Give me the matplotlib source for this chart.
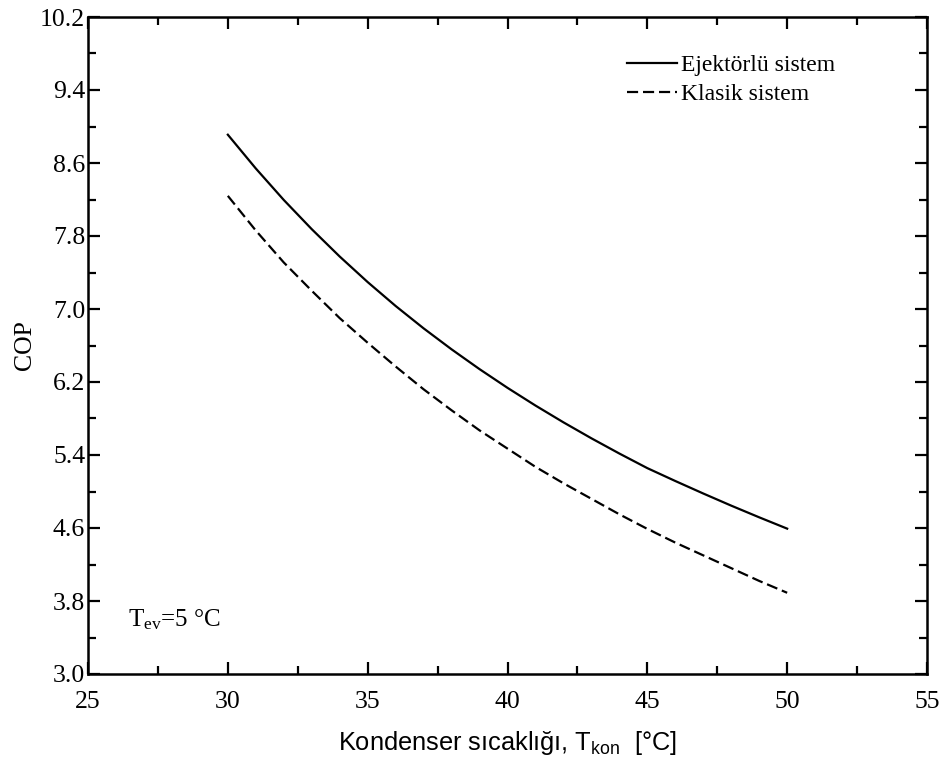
import numpy as np
import matplotlib
matplotlib.use("Agg")
import matplotlib.pyplot as plt
from matplotlib.ticker import MultipleLocator, FixedLocator, FormatStrFormatter

# Data
t_kon = [30, 31, 32, 33, 34, 35, 36, 37, 38, 39, 40,
         41, 42, 43, 44, 45, 46, 47, 48, 49, 50]
cop_ejektorlu = [8.91, 8.54, 8.195, 7.875, 7.575, 7.295, 7.033, 6.788, 6.558, 6.341, 6.136,
                 5.942, 5.758, 5.583, 5.416, 5.256, 5.115, 4.978, 4.845, 4.717, 4.593]
cop_klasik = [8.24, 7.86, 7.51, 7.20, 6.90, 6.63, 6.37, 6.12, 5.89, 5.67, 5.47,
              5.27, 5.09, 4.92, 4.75, 4.59, 4.44, 4.30, 4.16, 4.02, 3.89]

x_ticks = [25, 30, 35, 40, 45, 50, 55]
y_ticks = [3.0, 3.8, 4.6, 5.4, 6.2, 7.0, 7.8, 8.6, 9.4, 10.2]

labels = ["Ejektörlü sistem", "Klasik sistem"]
xlabel = "Kondenser sıcaklığı, $\\mathregular{T_{kon}}$  [°C]"
ylabel = "COP"
note = "$\\mathregular{T_{ev}}$=5 °C"

serif = ["Liberation Serif", "DejaVu Serif"]
sans = ["Liberation Sans", "DejaVu Sans"]

fig = plt.figure(figsize=(9.46, 7.69), dpi=100)
W, H = 946, 769
left, right, top, bottom = 88, 927, 17, 674
ax = fig.add_axes([left / W, 1 - bottom / H, (right - left) / W, (bottom - top) / H])

ax.plot(t_kon, cop_ejektorlu, color="black", lw=1.6, label=labels[0])
ax.plot(t_kon, cop_klasik, color="black", lw=1.6, dashes=(5, 2.2), label=labels[1])

ax.set_xlim(x_ticks[0], x_ticks[-1])
ax.set_ylim(y_ticks[0], y_ticks[-1])
ax.xaxis.set_major_locator(FixedLocator(x_ticks))
ax.xaxis.set_minor_locator(MultipleLocator(2.5))
ax.yaxis.set_major_locator(FixedLocator(y_ticks))
y_minor = [(a + b) / 2 for a, b in zip(y_ticks[:-1], y_ticks[1:])]
ax.yaxis.set_minor_locator(FixedLocator(y_minor))
ax.yaxis.set_major_formatter(FormatStrFormatter("%.1f"))
ax.xaxis.set_major_formatter(FormatStrFormatter("%d"))

for s in ax.spines.values():
    s.set_linewidth(1.8)
ax.tick_params(which="both", direction="in", top=True, right=True, width=1.6, colors="black")
ax.tick_params(which="major", length=8.5)
ax.tick_params(which="minor", length=5.5)
ax.tick_params(axis="x", which="major", pad=12)
ax.tick_params(axis="y", which="major", pad=2)
for lab in ax.get_xticklabels() + ax.get_yticklabels():
    lab.set_fontfamily(serif)
    lab.set_fontsize(18.5)

ax.set_xlabel(xlabel, fontfamily=sans, fontsize=18.3, labelpad=12)
ax.set_ylabel(ylabel, fontfamily=serif, fontsize=18.5, labelpad=3)

ax.text(0.048, 0.072, note, transform=ax.transAxes, fontfamily=serif, fontsize=18,
        ha="left", va="baseline")

leg = ax.legend(loc="upper left", bbox_to_anchor=(0.642, 0.943), frameon=False,
                prop={"family": serif, "size": 17}, handlelength=2.12,
                handletextpad=0.2, labelspacing=0.32, borderpad=0, borderaxespad=0)

fig.savefig("out.png", dpi=100)
